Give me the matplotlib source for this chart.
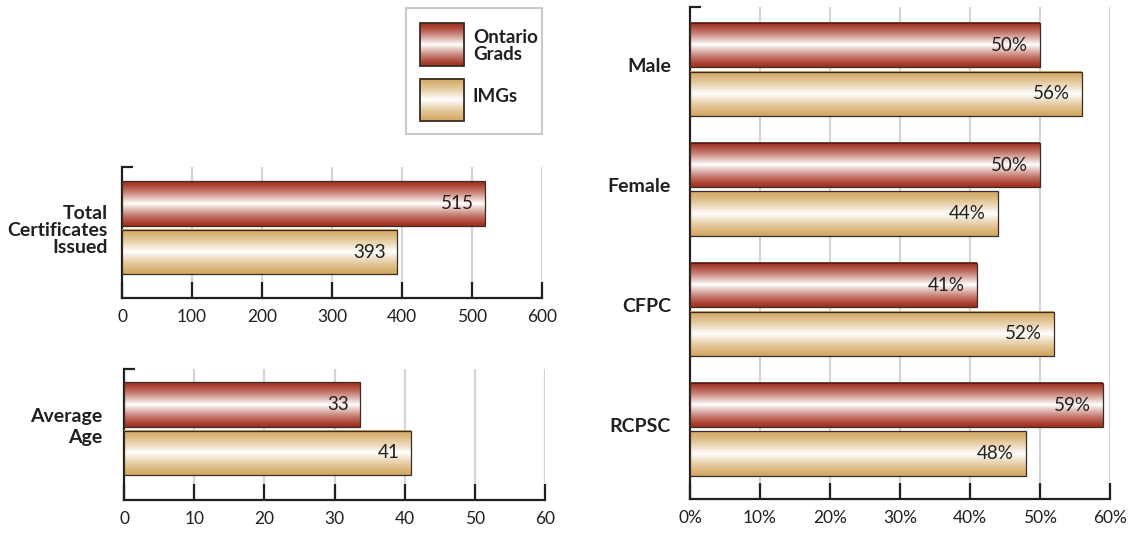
import numpy as np
import matplotlib
matplotlib.use("Agg")
import matplotlib.pyplot as plt
from matplotlib.colors import to_rgb
from matplotlib.patches import Rectangle

plt.rcParams['font.family'] = ['Lato', 'DejaVu Sans']

# ---------------- data ----------------
series_names = ["Ontario\nGrads", "IMGs"]
series_dark = ["#a22e1c", "#d3a862"]

cert_category = "Total\nCertificates\nIssued"
cert_values = [518, 393]          # bar lengths as drawn
cert_labels = ["515", "393"]
cert_ticks = [0, 100, 200, 300, 400, 500, 600]

age_category = "Average\nAge"
age_values = [33.6, 40.9]
age_labels = ["33", "41"]
age_ticks = [0, 10, 20, 30, 40, 50, 60]

pct_categories = ["Male", "Female", "CFPC", "RCPSC"]
pct_ontario = [50, 50, 41, 59]
pct_imgs = [56, 44, 52, 48]
pct_ticks = [0, 10, 20, 30, 40, 50, 60]

TXT = "#231f20"
EDGE = "#3a2c26"
GRID = "#d4d4d4"
W, H = 1141, 534
BOLD = 14
VAL = 13.5
TICK = 12.5


def rect(l, r, t, b):
    return [l / W, 1 - b / H, (r - l) / W, (b - t) / H]


def gradient(dark, n=200):
    t = np.linspace(0, 1, n)
    w = (1 - np.abs(2 * t - 1)) ** 1.3
    d = np.array(to_rgb(dark))
    return (d[None, :] * (1 - w[:, None]) + w[:, None])[:, None, :]


def grad_barh(ax, y, w, h, dark):
    ax.barh(y, w, height=h, color='none', edgecolor=EDGE, lw=0.9, zorder=4)
    ax.imshow(gradient(dark), extent=(0, w, y + h / 2, y - h / 2),
              aspect='auto', zorder=3, interpolation='bilinear')


def setup(ax, ticks, ylim, fmt, px_width):
    ax.set_xlim(ticks[0], ticks[-1])
    ax.set_ylim(*ylim)
    ax.set_xticks(ticks)
    ax.set_xticklabels([fmt(t) for t in ticks])
    ax.set_yticks([])
    for s in ['top', 'right']:
        ax.spines[s].set_visible(False)
    for s in ['left', 'bottom']:
        ax.spines[s].set_linewidth(1.6)
        ax.spines[s].set_color(TXT)
    ax.tick_params(axis='x', direction='in', length=11.5, width=1.6,
                   color=TXT, pad=8, labelsize=TICK, labelcolor=TXT)
    for t in ticks[1:]:
        ax.axvline(t, color=GRID, lw=1.6, zorder=1)
    ax.plot([0, 11 / px_width], [1, 1], transform=ax.transAxes, color=TXT,
            lw=1.6, clip_on=False, zorder=5, solid_capstyle='butt')
    ax.set_facecolor('none')


def cat_label(ax, y, text, pad_px, dy_pt, va, ls=1.0):
    ax.annotate(text, xy=(0, y), xycoords=ax.get_yaxis_transform(),
                xytext=(-pad_px * 0.72, dy_pt), textcoords='offset points',
                ha='right', va=va, multialignment='right', fontsize=BOLD,
                fontweight='bold', color=TXT, linespacing=ls,
                annotation_clip=False)


OFF_R, OFF_T, BH = -0.204, 0.2, 0.367

fig = plt.figure(figsize=(W / 100, H / 100), dpi=100)

# ---------- total certificates ----------
ax1 = fig.add_axes(rect(122, 542, 167, 298))
for v, lab, dark, off in zip(cert_values, cert_labels, series_dark, [OFF_R, OFF_T]):
    grad_barh(ax1, off, v, BH, dark)
    ax1.annotate(lab, (v, off), xytext=(-8, 0), textcoords='offset points',
                 ha='right', va='center', fontsize=VAL, color=TXT, zorder=6)
setup(ax1, cert_ticks, (0.583, -0.508), lambda t: f"{t}", 420)
cat_label(ax1, 0, cert_category, 14, -2.0, 'center', ls=1.0)

# ---------- average age ----------
ax2 = fig.add_axes(rect(124, 545, 369, 500))
for v, lab, dark, off in zip(age_values, age_labels, series_dark, [OFF_R, OFF_T]):
    grad_barh(ax2, off, v, BH, dark)
    ax2.annotate(lab, (v, off), xytext=(-8, 0), textcoords='offset points',
                 ha='right', va='center', fontsize=VAL, color=TXT, zorder=6)
setup(ax2, age_ticks, (0.592, -0.5), lambda t: f"{t}", 421)
cat_label(ax2, 0, age_category, 22, 1.5, 'center', ls=1.32)

# ---------- percentages ----------
ax3 = fig.add_axes(rect(690, 1110, 7, 499))
for i, (a, b) in enumerate(zip(pct_ontario, pct_imgs)):
    for v, dark, off in zip([a, b], series_dark, [OFF_R, OFF_T]):
        grad_barh(ax3, i + off, v, BH, dark)
        ax3.annotate(f"{v}%", (v, i + off), xytext=(-9, 0), textcoords='offset points',
                     ha='right', va='center', fontsize=VAL, color=TXT, zorder=6)
setup(ax3, pct_ticks, (3.579, -0.521), lambda t: f"{t}%", 420)
for i, c in enumerate(pct_categories):
    cat_label(ax3, i, c, 19, -1.8, 'baseline')

# ---------- legend ----------
axl = fig.add_axes(rect(405, 543, 7, 135))
axl.axis('off')
axl.add_patch(Rectangle((406, 8), 136, 126, fill=False, ec='#c9c9c9', lw=1.5))
for (y0, y1), dark, name, ty in zip([(23, 66), (79, 121)], series_dark,
                                     series_names, [46, 96]):
    axl.imshow(gradient(dark), extent=(420, 464, y1, y0), aspect='auto',
               interpolation='bilinear', zorder=2)
    axl.add_patch(Rectangle((420, y0), 44, y1 - y0, fill=False, ec=EDGE,
                            lw=1.3, zorder=3))
    axl.text(473, ty, name, ha='left', va='center', fontsize=BOLD - 0.5,
             fontweight='bold', color=TXT, linespacing=1.0)
axl.set_xlim(405, 543)
axl.set_ylim(135, 7)

fig.savefig("out.png", dpi=100)
